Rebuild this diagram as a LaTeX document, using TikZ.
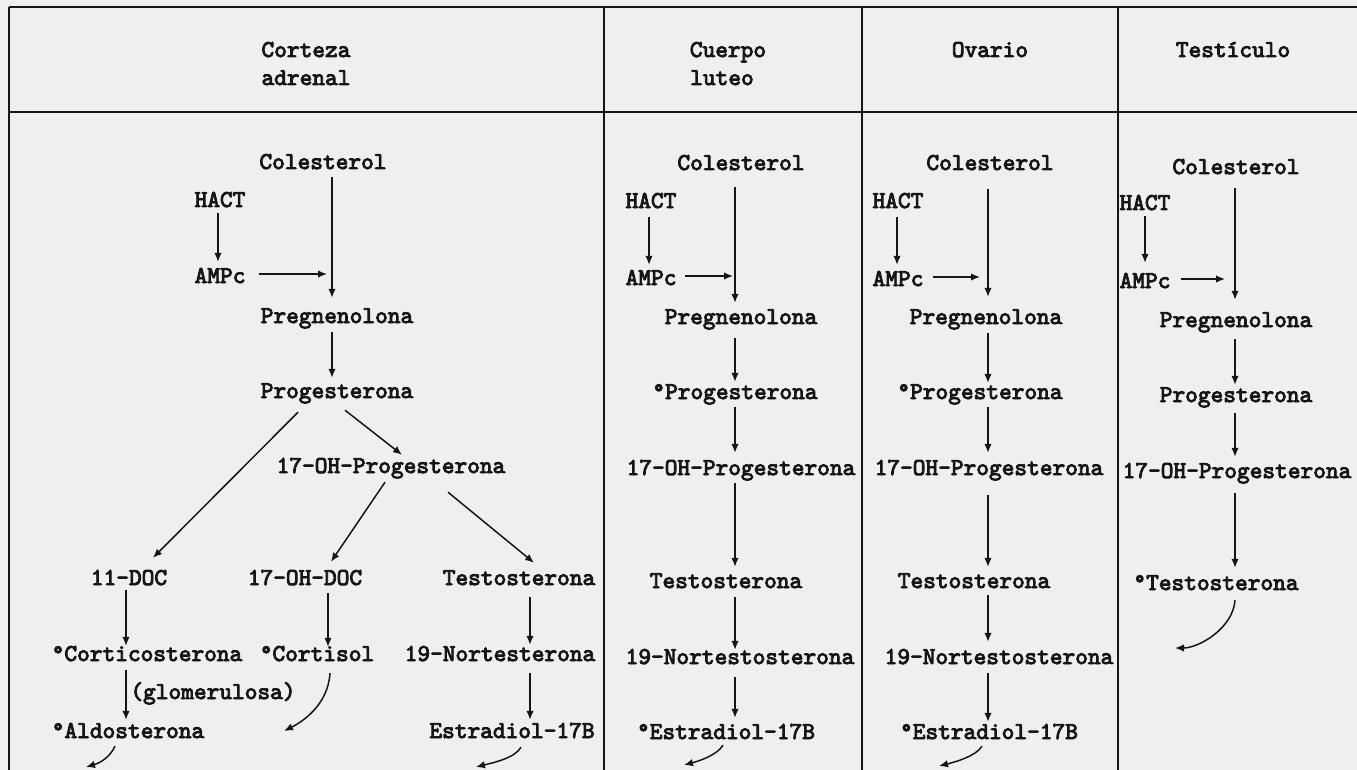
\documentclass[tikz,border=0pt]{standalone}
\usepackage{fontspec}
\newfontfamily\tw[FakeBold=3.6]{lmmono10-regular.otf}
\usetikzlibrary{arrows.meta,calc}
\definecolor{paper}{RGB}{239,239,237}
\definecolor{ink}{RGB}{22,22,22}
\begin{document}
\begin{tikzpicture}[x=1pt,y=-1pt,
  txt/.style={font=\tw\fontsize{24.2}{28}\selectfont, text=ink, inner sep=0pt,
              text height=14pt, text depth=4pt, anchor=base},
  arr/.style={draw=ink, line width=1.5pt, -{Latex[length=9pt,width=7.5pt]}},
  rule/.style={draw=ink, line width=1.9pt}]

% sheet
\fill[paper] (0,0) rectangle (1357,770);
\useasboundingbox (0,0) rectangle (1357,770);

% table frame
\draw[rule] (9,7) -- (1357,7);
\draw[rule] (9,112) -- (1357,112);
\draw[rule] (9,7) -- (9,770);
\draw[rule] (604,7) -- (604,770);
\draw[rule] (862,7) -- (862,770);
\draw[rule] (1118,7) -- (1118,770);

% column headings
\node[txt] (h1a) at (306,57) {Corteza};
\node[txt] (h1b) at (306,85) {adrenal};
\node[txt] (h2a) at (728,57) {Cuerpo};
\node[txt] (h2b) at (722,85) {luteo};
\node[txt] (h3)  at (990,57) {Ovario};
\node[txt] (h4)  at (1233,57) {Testículo};

% vertical guide lines of each pathway
\coordinate (a1) at (332,0);  \coordinate (d1) at (218,0);
\coordinate (k1) at (126,0);  \coordinate (m1) at (328,0);  \coordinate (t1) at (530,0);
\coordinate (a2) at (735,0);  \coordinate (d2) at (649,0);
\coordinate (a3) at (988,0);  \coordinate (d3) at (897,0);
\coordinate (a4) at (1235,0); \coordinate (d4) at (1145,0);

% ---------- Corteza adrenal ----------
\node[txt] (c1chol)     at (323,169) {Colesterol};
\node[txt] (c1hact)     at (220,207) {HACT};
\node[txt] (c1amp)      at (220,283) {AMPc};
\node[txt] (c1preg)     at (337,323) {Pregnenolona};
\node[txt] (c1prog)     at (337,398) {Progesterona};
\node[txt] (c1ohp)      at (391,473) {17-OH-Progesterona};
\node[txt] (c1doc)      at (129,585) {11-DOC};
\node[txt] (c1ohdoc)    at (305,585) {17-OH-DOC};
\node[txt] (c1testo)    at (519,585) {Testosterona};
\node[txt] (c1cort)     at (147,661) {°Corticosterona};
\node[txt] (c1cortisol) at (317,661) {°Cortisol};
\node[txt] (c1nor)      at (500,661) {19-Nortesterona};
\node[txt] (c1glom)     at (213,699) {(glomerulosa)};
\node[txt] (c1aldo)     at (128,738) {°Aldosterona};
\node[txt] (c1estr)     at (512,738) {Estradiol-17B};

\draw[arr, shorten <=2pt, shorten >=7pt] (c1hact.south -| d1) -- (c1amp.north -| d1);
\draw[arr, shorten <=13pt, shorten >=5pt] ($(c1amp.east)+(0,-4)$) -- ($(c1amp.east -| a1)+(0,-4)$);
\draw[arr, shorten <=4pt, shorten >=11pt] (c1chol.south -| a1) -- (c1preg.north -| a1);
\draw[arr, shorten <=5pt, shorten >=6pt] (c1preg.south -| a1) -- (c1prog.north -| a1);
\draw[arr] ($(c1prog.south)+(-39,10)$) -- ($(c1doc.north)+(24,-13)$);
\draw[arr] ($(c1prog.south)+(8,8)$) -- ($(c1ohp.north)+(11,-4)$);
\draw[arr] ($(c1ohp.south)+(-6,5)$) -- ($(c1ohdoc.north)+(26,-9)$);
\draw[arr] ($(c1ohp.south)+(57,15)$) -- ($(c1testo.north)+(15,-8)$);
\draw[arr, shorten <=1pt, shorten >=1pt] (c1doc.south -| k1) -- (c1cort.north -| k1);
\draw[arr, shorten <=4pt, shorten >=0pt] (c1ohdoc.south -| m1) -- (c1cortisol.north -| m1);
\draw[arr, shorten <=8pt, shorten >=2pt] (c1testo.south -| t1) -- (c1nor.north -| t1);
\draw[arr, shorten <=5pt, shorten >=4pt] (c1cort.south -| k1) -- (c1aldo.north -| k1);
\draw[arr, shorten <=8pt, shorten >=4pt] (c1nor.south -| t1) -- (c1estr.north -| t1);

\coordinate (c1cortisolout) at (284,731);
\coordinate (c1aldoout) at (86,767);
\coordinate (c1estrout) at (476,767);
\draw[arr] ($(c1cortisol.south)+(13,8)$) .. controls +(-2,32) and +(18,-9) .. (c1cortisolout);
\draw[arr] ($(c1aldo.south)+(-13,4)$) .. controls +(-5,11) and +(14,-4) .. (c1aldoout);
\draw[arr] ($(c1estr.south)+(9,5)$) .. controls +(-6,11) and +(16,-4) .. (c1estrout);

% ---------- Cuerpo luteo ----------
\node[txt] (c2chol)  at (741,170) {Colesterol};
\node[txt] (c2hact)  at (651,208) {HACT};
\node[txt] (c2amp)   at (651,285) {AMPc};
\node[txt] (c2preg)  at (741,324) {Pregnenolona};
\node[txt] (c2prog)  at (735,399) {°Progesterona};
\node[txt] (c2ohp)   at (741,475) {17-OH-Progesterona};
\node[txt] (c2testo) at (726,588) {Testosterona};
\node[txt] (c2nor)   at (740,664) {19-Nortestosterona};
\node[txt] (c2estr)  at (726,739) {°Estradiol-17B};

\draw[arr, shorten <=5pt, shorten >=6pt] (c2hact.south -| d2) -- (c2amp.north -| d2);
\draw[arr, shorten <=8pt, shorten >=2pt] ($(c2amp.east)+(0,-4)$) -- ($(c2amp.east -| a2)+(0,-4)$);
\draw[arr, shorten <=13pt, shorten >=7pt] (c2chol.south -| a2) -- (c2preg.north -| a2);
\draw[arr, shorten <=10pt, shorten >=3pt] (c2preg.south -| a2) -- (c2prog.north -| a2);
\draw[arr, shorten <=4pt, shorten >=8pt] (c2prog.south -| a2) -- (c2ohp.north -| a2);
\draw[arr, shorten <=4pt, shorten >=7pt] (c2ohp.south -| a2) -- (c2testo.north -| a2);
\draw[arr, shorten <=5pt, shorten >=0pt] (c2testo.south -| a2) -- (c2nor.north -| a2);
\draw[arr, shorten <=9pt, shorten >=7pt] (c2nor.south -| a2) -- (c2estr.north -| a2);
\coordinate (c2estrout) at (684,765);
\draw[arr] ($(c2estr.south)+(-3,2)$) .. controls +(-6,10) and +(15,-4) .. (c2estrout);

% ---------- Ovario ----------
\node[txt] (c3chol)  at (990,170) {Colesterol};
\node[txt] (c3hact)  at (898,208) {HACT};
\node[txt] (c3amp)   at (898,286) {AMPc};
\node[txt] (c3preg)  at (986,324) {Pregnenolona};
\node[txt] (c3prog)  at (980,399) {°Progesterona};
\node[txt] (c3ohp)   at (989,475) {17-OH-Progesterona};
\node[txt] (c3testo) at (974,588) {Testosterona};
\node[txt] (c3nor)   at (999,664) {19-Nortestosterona};
\node[txt] (c3estr)  at (989,739) {°Estradiol-17B};

\draw[arr, shorten <=5pt, shorten >=7pt] (c3hact.south -| d3) -- (c3amp.north -| d3);
\draw[arr, shorten <=9pt, shorten >=8pt] ($(c3amp.east)+(0,-4)$) -- ($(c3amp.east -| a3)+(0,-4)$);
\draw[arr, shorten <=15pt, shorten >=13pt] (c3chol.south -| a3) -- (c3preg.north -| a3);
\draw[arr, shorten <=5pt, shorten >=2pt] (c3preg.south -| a3) -- (c3prog.north -| a3);
\draw[arr, shorten <=4pt, shorten >=8pt] (c3prog.south -| a3) -- (c3ohp.north -| a3);
\draw[arr, shorten <=16pt, shorten >=7pt] (c3ohp.south -| a3) -- (c3testo.north -| a3);
\draw[arr, shorten <=3pt, shorten >=8pt] (c3testo.south -| a3) -- (c3nor.north -| a3);
\draw[arr, shorten <=5pt, shorten >=3pt] (c3nor.south -| a3) -- (c3estr.north -| a3);
\coordinate (c3estrout) at (939,766);
\draw[arr] ($(c3estr.south)+(-7,3)$) .. controls +(-6,10) and +(16,-4) .. (c3estrout);

% ---------- Testiculo ----------
\node[txt] (c4chol)  at (1236,174) {Colesterol};
\node[txt] (c4hact)  at (1145,210) {HACT};
\node[txt] (c4amp)   at (1145,288) {AMPc};
\node[txt] (c4preg)  at (1236,327) {Pregnenolona};
\node[txt] (c4prog)  at (1236,402) {Progesterona};
\node[txt] (c4ohp)   at (1237,478) {17-OH-Progesterona};
\node[txt] (c4testo) at (1216,590) {°Testosterona};

\draw[arr, shorten <=2pt, shorten >=11pt] (c4hact.south -| d4) -- (c4amp.north -| d4);
\draw[arr, shorten <=10pt, shorten >=10pt] ($(c4amp.east)+(0,-4)$) -- ($(c4amp.east -| a4)+(0,-4)$);
\draw[arr, shorten <=10pt, shorten >=13pt] (c4chol.south -| a4) -- (c4preg.north -| a4);
\draw[arr, shorten <=8pt, shorten >=3pt] (c4preg.south -| a4) -- (c4prog.north -| a4);
\draw[arr, shorten <=7pt, shorten >=7pt] (c4prog.south -| a4) -- (c4ohp.north -| a4);
\draw[arr, shorten <=11pt, shorten >=8pt] (c4ohp.south -| a4) -- (c4testo.north -| a4);
\coordinate (c4testoout) at (1175,648);
\draw[arr] ($(c4testo.south)+(19,6)$) .. controls +(-2,28) and +(24,0) .. (c4testoout);

\end{tikzpicture}
\end{document}
